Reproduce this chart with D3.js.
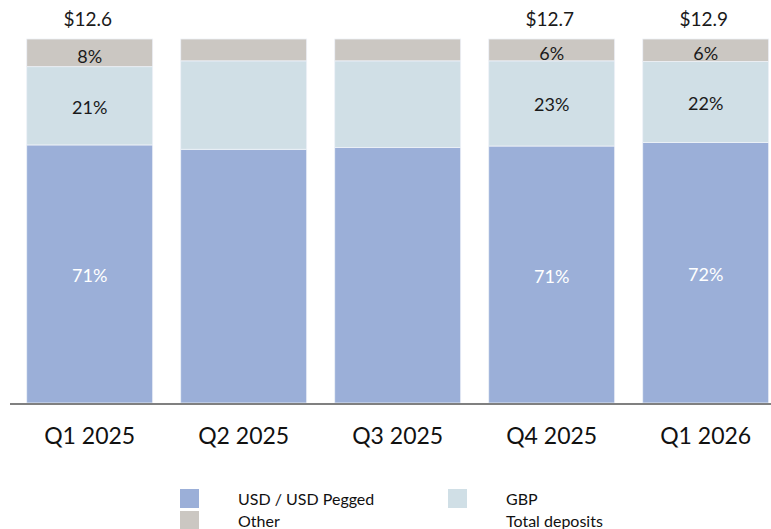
<!DOCTYPE html>
<html>
<head>
<meta charset="utf-8">
<script src="https://cdn.jsdelivr.net/npm/d3@7"></script>
<style>
  body { margin: 0; background: #fff; }
  text { font-family: Lato, "Open Sans", sans-serif; }
</style>
</head>
<body>
<div id="root"></div>
<script>
const quarters = ["Q1 2025", "Q2 2025", "Q3 2025", "Q4 2025", "Q1 2026"];
const usdShare = [70.9, 69.7, 70.2, 70.6, 71.6];
const gbpShare = [21.5, 24.3, 23.8, 23.4, 22.2];
const otherShare = [7.6, 6.0, 6.0, 6.0, 6.2];
// labels printed on the bars (none on Q2 / Q3)
const usdLabel = ["71%", null, null, "71%", "72%"];
const gbpLabel = ["21%", null, null, "23%", "22%"];
const otherLabel = ["8%", null, null, "6%", "6%"];
const totalDeposits = [12.6, null, null, 12.7, 12.9];

const seriesNames = ["USD / USD Pegged", "GBP", "Other"];
const colors = ["#9bafd8", "#d0dfe6", "#cbc7c2"];

document.addEventListener("DOMContentLoaded", () => {
    const width = 771;
    const height = 529;

    const svg = d3.select("#root").append("svg")
        .attr("width", width)
        .attr("height", height);

    const rows = quarters.map((q, i) => ({
        q: q,
        "USD / USD Pegged": usdShare[i],
        "GBP": gbpShare[i],
        "Other": otherShare[i]
    }));
    const labels = [usdLabel, gbpLabel, otherLabel];

    const stack = d3.stack().keys(seriesNames)(rows);

    const x = d3.scaleBand()
        .domain(quarters)
        .range([12.7, 782.7])
        .paddingInner(0.182)
        .paddingOuter(0.091);

    const y = d3.scaleLinear()
        .domain([0, 100])
        .range([403, 39]);

    const layer = svg.selectAll(".layer")
        .data(stack)
        .enter().append("g")
        .attr("class", "layer")
        .attr("fill", (d, i) => colors[i]);

    layer.selectAll("rect")
        .data(d => d)
        .enter().append("rect")
        .attr("x", d => x(d.data.q))
        .attr("y", d => y(d[1]))
        .attr("width", x.bandwidth())
        .attr("height", d => y(d[0]) - y(d[1]))
        .attr("stroke", "#eef2f8")
        .attr("stroke-width", 0.8);

    // segment labels
    stack.forEach((s, si) => {
        svg.append("g").selectAll("text")
            .data(s.filter((d, i) => labels[si][i]))
            .enter().append("text")
            .attr("x", d => x(d.data.q) + x.bandwidth() / 2)
            .attr("y", d => (y(d[0]) + y(d[1])) / 2 + (si === 2 ? 3 : 1))
            .attr("text-anchor", "middle")
            .attr("dominant-baseline", "central")
            .style("font-size", "18px")
            .style("fill", si === 0 ? "#ffffff" : "#1a1a1a")
            .text(d => labels[si][quarters.indexOf(d.data.q)]);
    });

    // totals above bars
    svg.append("g").selectAll("text")
        .data(quarters.filter((q, i) => totalDeposits[i] != null))
        .enter().append("text")
        .attr("x", q => x(q) + x.bandwidth() / 2 - 2)
        .attr("y", 26)
        .attr("text-anchor", "middle")
        .style("font-size", "19px")
        .style("fill", "#1a1a1a")
        .text(q => "$" + totalDeposits[quarters.indexOf(q)].toFixed(1));

    // x axis
    const axis = svg.append("g")
        .attr("transform", "translate(0,404)")
        .call(d3.axisBottom(x).tickSize(0).tickPadding(24));
    axis.select(".domain")
        .attr("d", "M10,0H771")
        .attr("stroke", "#808080")
        .attr("stroke-width", 2);
    axis.selectAll(".tick text")
        .style("font-family", "Lato, 'Open Sans', sans-serif")
        .style("font-size", "23px")
        .style("fill", "#111");

    // legend
    const legendItems = [
        { name: "USD / USD Pegged", color: colors[0], x: 180, y: 489 },
        { name: "GBP", color: colors[1], x: 448, y: 489 },
        { name: "Other", color: colors[2], x: 180, y: 511 },
        { name: "Total deposits", color: "#ffffff", x: 448, y: 511 }
    ];
    const legend = svg.append("g").selectAll("g")
        .data(legendItems)
        .enter().append("g")
        .attr("transform", d => `translate(${d.x},${d.y})`);
    legend.append("rect")
        .attr("width", 19)
        .attr("height", 19)
        .attr("fill", d => d.color);
    legend.append("text")
        .attr("x", 58)
        .attr("y", 16)
        .style("font-size", "16px")
        .style("fill", "#111")
        .text(d => d.name);
});
</script>
</body>
</html>
